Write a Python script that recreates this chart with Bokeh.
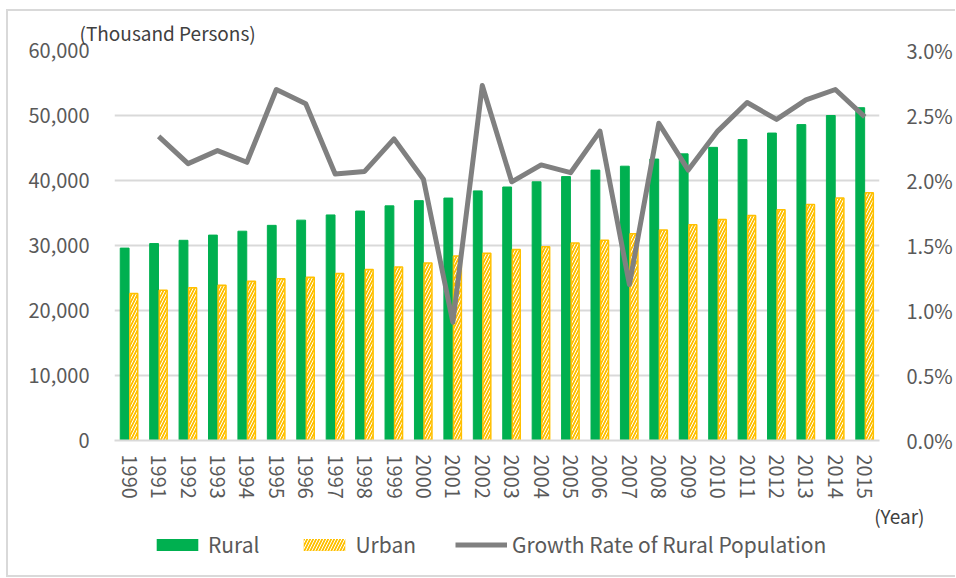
from bokeh.plotting import figure
from bokeh.layouts import column
from bokeh.models import (ColumnDataSource, FactorRange, Range1d, LinearAxis, FixedTicker,
                          NumeralTickFormatter, Legend, LegendItem, Title)
from bokeh.transform import dodge
from bokeh.embed import file_html
from bokeh.resources import INLINE

years = [str(y) for y in range(1990, 2016)]
rural = [29.6, 30.3, 30.8, 31.6, 32.2, 33.1, 33.9, 34.7, 35.3, 36.1, 36.9, 37.3, 38.4,
         39.0, 39.8, 40.6, 41.6, 42.2, 43.3, 44.1, 45.1, 46.3, 47.3, 48.6, 50.0, 51.2]
urban = [22.6, 23.1, 23.5, 23.9, 24.5, 24.9, 25.1, 25.7, 26.3, 26.7, 27.3, 28.4, 28.8,
         29.4, 29.8, 30.4, 30.8, 31.8, 32.4, 33.2, 34.0, 34.6, 35.5, 36.3, 37.3, 38.1]
rate_years = years[1:]
rate = [2.34, 2.13, 2.23, 2.14, 2.70, 2.59, 2.05, 2.07, 2.32, 2.01, 0.91, 2.73,
        1.99, 2.12, 2.06, 2.38, 1.20, 2.44, 2.08, 2.38, 2.60, 2.47, 2.62, 2.70, 2.49]
left_ticks = [0, 10000, 20000, 30000, 40000, 50000, 60000]
right_ticks = [0.0, 0.005, 0.01, 0.015, 0.02, 0.025, 0.03]

FONT = "Noto Sans CJK JP"
GRID = "#D9D9D9"
TXT = "#595959"
GREEN = "#00B050"
YELLOW = "#FFC000"
GRAY = "#808080"

bar_src = ColumnDataSource(dict(year=years,
                                rural=[v * 1000 for v in rural],
                                urban=[v * 1000 for v in urban]))
line_src = ColumnDataSource(dict(year=rate_years, rate=[v / 100 for v in rate]))

p = figure(width=947, height=519, x_range=FactorRange(factors=years, range_padding=0),
           y_range=Range1d(0, 60000), output_backend="svg", toolbar_location=None,
           min_border_left=106, min_border_right=75, min_border_top=39, min_border_bottom=88)
p.extra_y_ranges = {"pct": Range1d(0, 0.03)}
p.outline_line_color = None

rural_style = dict(fill_color=GREEN, line_color=GREEN)
urban_style = dict(fill_color=YELLOW, line_color=YELLOW, line_width=1.5,
                   hatch_pattern="/", hatch_color="white", hatch_scale=6, hatch_weight=1)
line_style = dict(line_color=GRAY, line_width=5, line_join="round")

p.vbar(x=dodge("year", -0.155, range=p.x_range), top="rural", width=0.3,
       source=bar_src, **rural_style)
p.vbar(x=dodge("year", 0.155, range=p.x_range), top="urban", width=0.27,
       source=bar_src, **urban_style)
p.line(x="year", y="rate", source=line_src, y_range_name="pct", **line_style)

# axes
p.yaxis.ticker = FixedTicker(ticks=left_ticks)
p.yaxis.formatter = NumeralTickFormatter(format="0,0")
p.yaxis.axis_line_color = None
p.yaxis.major_tick_line_color = None
p.yaxis.minor_tick_line_color = None
p.yaxis.major_label_standoff = 19
p.yaxis.major_label_text_font = FONT
p.yaxis.major_label_text_font_size = "20px"
p.yaxis.major_label_text_color = TXT

ra = LinearAxis(y_range_name="pct", ticker=FixedTicker(ticks=right_ticks),
                formatter=NumeralTickFormatter(format="0.0%"))
ra.axis_line_color = None
ra.major_tick_line_color = None
ra.minor_tick_line_color = None
ra.major_label_standoff = 21
ra.major_label_text_font = FONT
ra.major_label_text_font_size = "20px"
ra.major_label_text_color = TXT
p.add_layout(ra, "right")

p.xaxis.major_label_orientation = "vertical"
p.xaxis.axis_line_color = GRID
p.xaxis.axis_line_width = 2
p.xaxis.major_tick_line_color = None
p.xaxis.major_label_standoff = 8
p.xaxis.major_label_text_font = FONT
p.xaxis.major_label_text_font_size = "20px"
p.xaxis.major_label_text_color = TXT

p.xgrid.grid_line_color = None
p.ygrid.ticker = FixedTicker(ticks=left_ticks)
p.ygrid.grid_line_color = GRID
p.ygrid.grid_line_width = 2

p.title = Title(text="(Thousand Persons)", align="left", offset=-35, standoff=9,
                text_font=FONT, text_font_size="19px", text_color="#404040",
                text_font_style="normal")
p.add_layout(Title(text="(Year)", align="right", offset=-45, standoff=0,
                   vertical_align="top",
                   text_font=FONT, text_font_size="19px", text_color="#404040",
                   text_font_style="normal"), "below")

# legend strip: a small figure whose view range lies away from all data,
# so its renderers only supply legend swatches
lp = figure(width=947, height=45, x_range=p.x_range, y_range=Range1d(200000, 300000),
            output_backend="svg", toolbar_location=None,
            min_border_left=0, min_border_right=0, min_border_top=0, min_border_bottom=0)
lp.extra_y_ranges = {"pct": Range1d(0.1, 0.2)}
lp.axis.visible = False
lp.grid.visible = False
lp.outline_line_color = None
swatch_urban = dict(urban_style, line_color=None)
g1 = lp.vbar(x="year", top="rural", width=0.3, source=bar_src,
             fill_color=GREEN, line_color=None)
g2 = lp.vbar(x="year", top="urban", width=0.27, source=bar_src, **swatch_urban)
g3 = lp.line(x="year", y="rate", source=line_src, y_range_name="pct", **line_style)

legend = Legend(items=[LegendItem(label="Rural", renderers=[g1]),
                       LegendItem(label="Urban", renderers=[g2]),
                       LegendItem(label="Growth Rate of Rural Population", renderers=[g3])],
                orientation="horizontal", location=(37, 16),
                glyph_width=52, glyph_height=15, label_standoff=5, spacing=39,
                label_text_font=FONT, label_text_font_size="21px", label_text_color=TXT,
                border_line_color=None, background_fill_alpha=0, padding=0, margin=0)
lp.add_layout(legend)

layout = column(p, lp, spacing=0,
                styles={"margin-left": "6px", "margin-top": "9px",
                        "border-left": "2px solid #D9D9D9", "border-top": "2px solid #D9D9D9",
                        "border-bottom": "2px solid #D9D9D9"})

open("out.html", "w").write(file_html(layout, INLINE))
